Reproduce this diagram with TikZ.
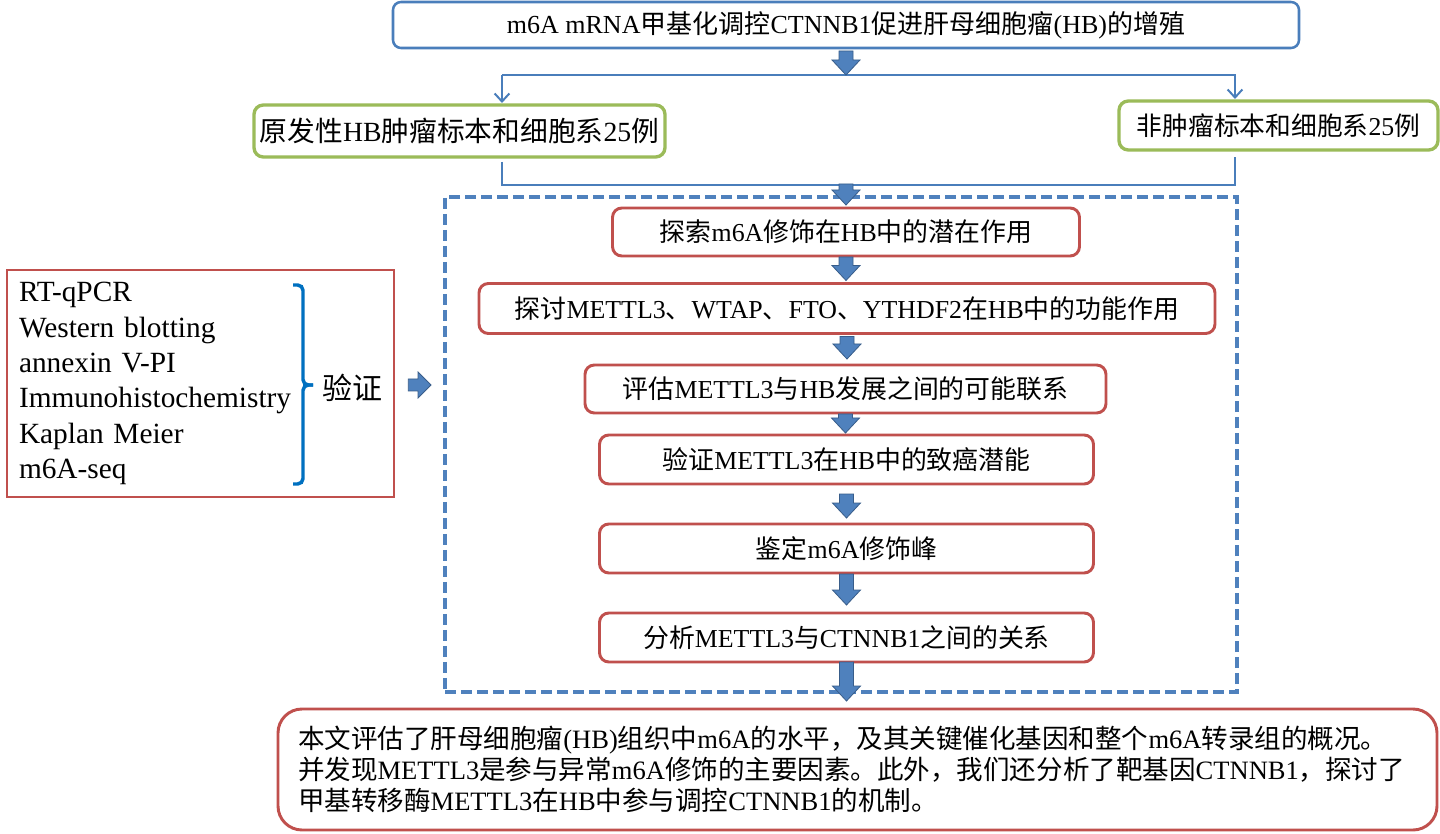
\documentclass[tikz,border=0pt]{standalone}
\usepackage{fontspec}
\setmainfont{Liberation Serif}
\newfontfamily\cjkfont{Noto Sans CJK SC}
\usetikzlibrary{arrows.meta,calc}
\makeatletter
\newXeTeXintercharclass\cjkclass
\count@="4E00 \loop\ifnum\count@<"A000 \XeTeXcharclass\count@=\cjkclass\advance\count@ by 1 \repeat
\count@="3000 \loop\ifnum\count@<"3040 \XeTeXcharclass\count@=\cjkclass\advance\count@ by 1 \repeat
\count@="FF00 \loop\ifnum\count@<"FFF0 \XeTeXcharclass\count@=\cjkclass\advance\count@ by 1 \repeat
\makeatother
\XeTeXinterchartoks 0 \cjkclass = {\cjkfont}
\XeTeXinterchartoks 4095 \cjkclass = {\cjkfont}
\XeTeXinterchartoks \cjkclass 0 = {\rmfamily}
\XeTeXinterchartoks \cjkclass 4095 = {\rmfamily}
\XeTeXinterchartokenstate=1
\definecolor{cBlue}{HTML}{4A7EBB}
\definecolor{cFill}{HTML}{4F81BD}
\definecolor{cDark}{HTML}{385D8A}
\definecolor{cRed}{HTML}{C0504D}
\definecolor{cGreen}{HTML}{9BBB59}
\definecolor{cBrace}{HTML}{0070C0}
\tikzset{
  sz/.style 2 args={minimum width=#1*0.75pt, minimum height=#2*0.75pt, inner sep=0pt, outer sep=0pt},
  titlebox/.style={draw=cBlue, line width=1.9pt, rounded corners=6pt, font=\fontsize{19.5}{23}\selectfont},
  greenbox/.style={draw=cGreen, line width=2.5pt, rounded corners=7pt},
  redbox/.style={draw=cRed, line width=2.2pt, rounded corners=7pt, font=\fontsize{19.4}{23}\selectfont},
  dashbox/.style={draw=cFill, line width=2.6pt, dash pattern=on 8pt off 4pt},
  leftbox/.style={draw=cRed, line width=2.2pt, align=left, font=\fontsize{22}{26.5}\selectfont},
  bottombox/.style={draw=cRed, line width=2.2pt, rounded corners=18pt, align=left, font=\fontsize{19.9}{23.3}\selectfont},
  thinline/.style={draw=cBlue, line width=1.5pt},
  thinarrow/.style={thinline, -{Straight Barb[length=6pt,width=11pt]}},
  blk/.style={fill=cFill, draw=cDark, line width=0.6pt, line join=miter},
  bracestyle/.style={draw=cBrace, line width=2.6pt, rounded corners=4pt},
}
\newcommand\blkdown[2]{%
  \path[blk] let \p1=#1, \p2=#2 in
  ({\x1-5.25pt},\y1) -- ({\x1+5.25pt},\y1) -- ({\x1+5.25pt},{\y2+11.25pt}) --
  ({\x1+10.5pt},{\y2+11.25pt}) -- (\x1,\y2) -- ({\x1-10.5pt},{\y2+11.25pt}) --
  ({\x1-5.25pt},{\y2+11.25pt}) -- cycle;}
\newcommand\blkright[2]{%
  \path[blk] let \p1=#1, \p2=#2 in
  (\x1,{\y1+4.5pt}) -- ({\x2-9.75pt},{\y1+4.5pt}) -- ({\x2-9.75pt},{\y1+9.75pt}) --
  (\x2,\y1) -- ({\x2-9.75pt},{\y1-9.75pt}) -- ({\x2-9.75pt},{\y1-4.5pt}) --
  (\x1,{\y1-4.5pt}) -- cycle;}
\begin{document}
\begin{tikzpicture}[x=0.75pt, y=-0.75pt]
\fill[white] (0,0) rectangle (1440,834);
\useasboundingbox (0,0) rectangle (1440,834);

% dashed frame
\node[dashbox, sz={792}{495}] (dash) at (841,444.5) {};

% title
\node[titlebox, sz={906}{46}] (title) at (846,25) {m6A mRNA甲基化调控CTNNB1促进肝母细胞瘤(HB)的增殖};

% green boxes
\node[greenbox, sz={411}{52}, font=\fontsize{20.8}{24}\selectfont] (g1) at (459.5,131) {原发性HB肿瘤标本和细胞系25例};
\node[greenbox, sz={319}{49}, font=\fontsize{19.3}{23}\selectfont] (g2) at (1278.5,125.5) {非肿瘤标本和细胞系25例};

% branch lines
\coordinate (br) at (846,75);
\coordinate (lt) at (502,75);
\coordinate (rt) at (1235,75);
\coordinate (lb) at (502,185);
\coordinate (rb) at (1235,185);
\coordinate (jn) at (846,184);
\draw[thinarrow] (lt) -- (rt) -- ($(rt |- g2.north)+(0,-2)$);
\draw[thinarrow] (lt) -- ($(lt |- g1.north)+(0,-2)$);
\draw[thinline] ($(lb |- g1.south)+(0,5)$) -- (lb) -- (rb) -- ($(rb |- g2.south)+(0,7)$);

% red boxes
\node[redbox, sz={467}{48}] (b1) at (846,232) {探索m6A修饰在HB中的潜在作用};
\node[redbox, sz={736}{50}] (b2) at (847,308.5) {探讨METTL3、WTAP、FTO、YTHDF2在HB中的功能作用};
\node[redbox, sz={521}{48}] (b3) at (845.5,389) {评估METTL3与HB发展之间的可能联系};
\node[redbox, sz={494}{49}] (b4) at (846.5,459.5) {验证METTL3在HB中的致癌潜能};
\node[redbox, sz={494}{49}] (b5) at (846.5,548.5) {鉴定m6A修饰峰};
\node[redbox, sz={494}{49}] (b6) at (846.5,637.5) {分析METTL3与CTNNB1之间的关系};

% bottom box
\node[bottombox, sz={1159}{121}, text width=1119*0.75pt] (sum) at (857.5,769.5) {本文评估了肝母细胞瘤(HB)组织中m6A的水平，及其关键催化基因和整个m6A转录组的概况。\\并发现METTL3是参与异常m6A修饰的主要因素。此外，我们还分析了靶基因CTNNB1，探讨了\\甲基转移酶METTL3在HB中参与调控CTNNB1的机制。};

% left box
\node[leftbox, sz={387}{227}, text width=363*0.75pt] (methods) at (200.5,383.5) {RT-qPCR\\Western blotting\\annexin V-PI\\Immunohistochemistry\\Kaplan Meier\\m6A-seq};
\draw[bracestyle] (293,285) -| (303,385) -- (313,385);
\draw[bracestyle] (313,385) -- (303,385) |- (293,484);
\node[inner sep=0pt, font=\fontsize{22.5}{26}\selectfont] (yz) at (352,388) {验证};

% block arrows
\blkdown{($(title.south)+(0,3)$)}{(br)}
\blkdown{(jn)}{($(b1.north)+(0,-3)$)}
\blkdown{($(b1.south)+(0,1)$)}{($(b2.north)+(0,-3)$)}
\blkdown{($(b2.south)+(0,3)$)}{($(b3.north)+(0,-6)$)}
\blkdown{($(b3.south)+(0,1)$)}{($(b4.north)+(0,-2)$)}
\blkdown{($(b4.south)+(0,10)$)}{($(b5.north)+(0,-6)$)}
\blkdown{($(b5.south)+(0,1)$)}{($(b6.north)+(0,-8)$)}
\blkdown{($(b6.south)+(0,0)$)}{($(sum.north)+(0,-8)$)}
\blkright{($(yz.east)+(26,-3)$)}{($(dash.west |- yz.east)+(-14,-3)$)}
\end{tikzpicture}
\end{document}
